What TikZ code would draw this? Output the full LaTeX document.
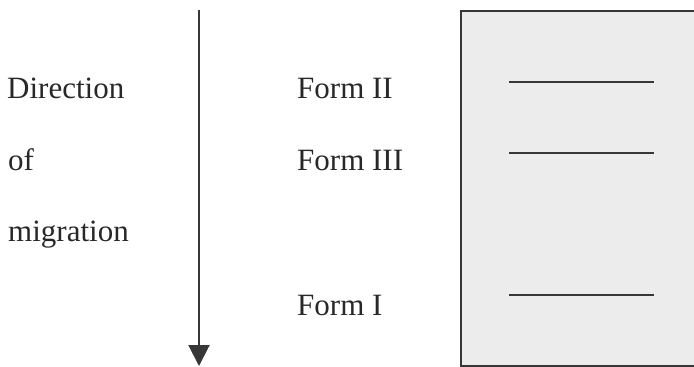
\documentclass[tikz,border=0pt]{standalone}
\usepackage{fontspec}
\setmainfont{Liberation Serif}
\usetikzlibrary{arrows.meta}
\definecolor{boxgray}{RGB}{236,236,236}
\definecolor{inkgray}{RGB}{55,55,55}
\definecolor{textgray}{RGB}{40,40,40}
\begin{document}
\begin{tikzpicture}[x=1pt,y=-1pt,
  lbl/.style={anchor=base west, inner sep=0pt, text=textgray, font=\fontsize{31}{37}\selectfont},
  band/.style={draw=inkgray, line width=2pt},
  frame/.style={fill=boxgray, draw=inkgray, line width=2pt}]
\useasboundingbox (0,0) rectangle (694,367);
\clip (0,0) rectangle (694,367);
% left labels
\node[lbl] (dir) at (7,98) {Direction};
\node[lbl] (of) at (8,170) {of};
\node[lbl] (mig) at (8,241) {migration};
% arrow
\coordinate (atop) at (199,10);
\coordinate (atip) at (199,366);
\draw[draw=inkgray, line width=2pt, -{Triangle[length=21pt,width=21pt]}] (atop) -- (atip);
% form labels
\node[lbl] (f2) at (297,98) {Form II};
\node[lbl] (f3) at (297,170) {Form III};
\node[lbl] (f1) at (297,315) {Form I};
% gel box
\draw[frame] (461,11) rectangle (710,366);
\coordinate (b2l) at (509,82);  \coordinate (b2r) at (654,82);
\coordinate (b3l) at (509,153); \coordinate (b3r) at (654,153);
\coordinate (b1l) at (509,295); \coordinate (b1r) at (654,295);
\draw[band] (b2l) -- (b2r);
\draw[band] (b3l) -- (b3r);
\draw[band] (b1l) -- (b1r);
\end{tikzpicture}
\end{document}
